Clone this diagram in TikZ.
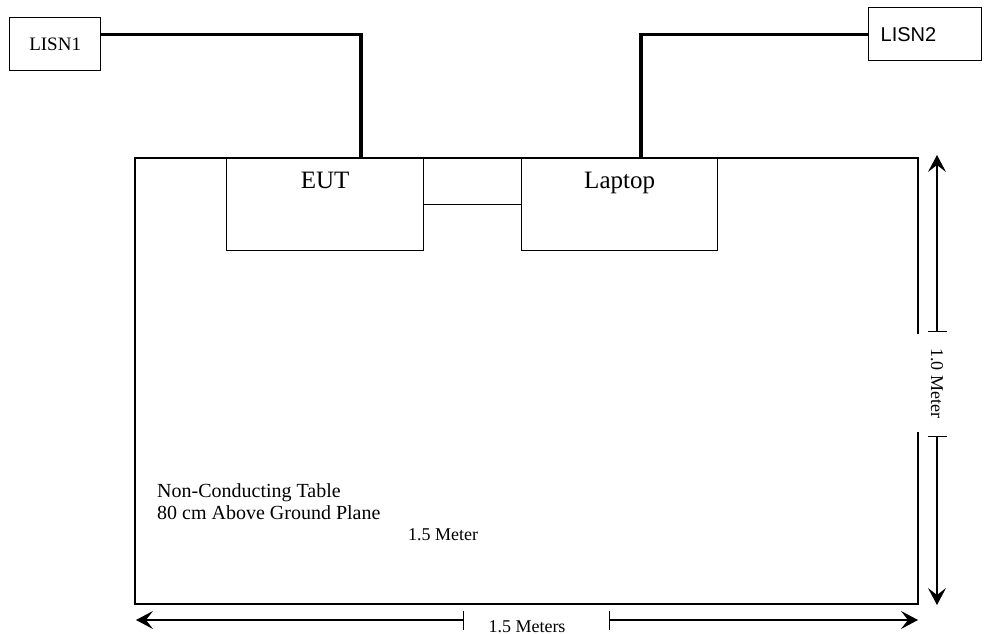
\documentclass[tikz,border=0pt]{standalone}
\usepackage{fontspec}
\setmainfont{Liberation Serif}
\newfontfamily\lisnfont{Liberation Sans}
\usetikzlibrary{arrows.meta, positioning, calc}
\def\thin{1.3pt}
\def\wire{3.2pt}
\newcommand{\fsize}[1]{\fontsize{#1}{1.2\dimexpr#1pt\relax}\selectfont}

\begin{document}
\begin{tikzpicture}[x=1pt, y=-1pt,
    box/.style={draw, line width=\thin, inner sep=0pt, anchor=north west},
    txt/.style={inner sep=0pt, font=\fsize{20}},
    dimline/.style={line width=\thin, {Stealth[length=17pt, width=18pt, inset=7pt]}-{Bar[width=19pt]}}]
    \useasboundingbox (0,0) rectangle (986,634);

    % table
    \coordinate (T1) at (135,158);
    \coordinate (T2) at (918,604);
    \draw[line width=\thin] (T1) rectangle (T2);

    % equipment on the table
    \node[box, minimum width=197pt, minimum height=92pt, font=\fsize{25},
          text height=30pt, text depth=62pt] (eut) at (226,158) {EUT};
    \node[box, minimum width=196pt, minimum height=92pt, font=\fsize{25},
          text height=30pt, text depth=62pt] (laptop) at (521,158) {Laptop};
    \draw[line width=\thin] (eut.east) -- (laptop.west);

    % LISNs and power leads
    \node[box, minimum width=91pt, minimum height=53pt, font=\fsize{19}] (lisn1) at (9,17) {LISN1};
    \node[box, minimum height=53pt, text width=89pt, inner xsep=12pt, align=left,
          font=\lisnfont\fsize{20}] (lisn2) at (868,7) {LISN2};
    \coordinate (P1) at (361,158);
    \coordinate (P2) at (641,158);
    \draw[line width=\wire] ([yshift=9.5pt]lisn1.east) -| (P1);
    \draw[line width=\wire] (lisn2.west) -| (P2);

    % table notes
    \node[txt, anchor=base west] (note1) at (157,497) {Non-Conducting Table};
    \node[txt, anchor=base west] (note2) at (157,519) {80 cm Above Ground Plane};
    \node[txt, anchor=base west, font=\fsize{18}] (width) at (408,540) {1.5 Meter};

    % depth dimension
    \node[fill=white, rotate=-90, inner sep=0pt, minimum width=98pt, minimum height=42pt,
          font=\fsize{18}] (depth) at (937,383) {1.0 Meter};
    \coordinate (V1) at (937,155);
    \coordinate (V2) at (937,332);
    \coordinate (V3) at (937,436);
    \coordinate (V4) at (937,605);
    \draw[dimline] (V1) -- (V2);
    \draw[dimline] (V4) -- (V3);

    % width dimension
    \coordinate (H1) at (136,620);
    \coordinate (H2) at (464,620);
    \coordinate (H3) at (609,620);
    \coordinate (H4) at (918,620);
    \draw[dimline] (H1) -- (H2);
    \draw[dimline] (H4) -- (H3);
    \node[txt, anchor=base, font=\fsize{18}] (span) at (527,632) {1.5 Meters};
\end{tikzpicture}
\end{document}
